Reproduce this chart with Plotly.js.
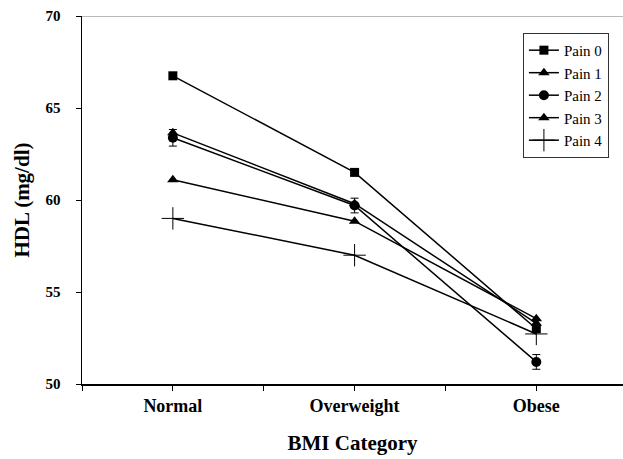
<!DOCTYPE html>
<html>
<head>
<meta charset="utf-8">
<script src="https://cdn.plot.ly/plotly-3.0.1.min.js"></script>
<style>html,body{margin:0;padding:0;background:#fff;}#chart{width:623px;height:459px;}</style>
</head>
<body>
<div id="chart"></div>
<script>
const categories = ["Normal", "Overweight", "Obese"];
const seriesNames = ["Pain 0", "Pain 1", "Pain 2", "Pain 3", "Pain 4"];
const pain0 = [66.75, 61.5, 53.0];
const pain1 = [63.65, 59.8, 53.3];
const pain2 = [63.38, 59.7, 51.2];
const pain3 = [61.1, 58.85, 53.55];
const pain4 = [59.0, 57.0, 52.72];
const pain2Err = [0.45, 0.4, 0.4];
const yTicks = [50, 55, 60, 65, 70];

const xIdx = categories.map((c, i) => i);
const symbols = ["square", "triangle-up", "circle", "triangle-up", "cross-thin"];
const sizes = [9, 10, 10, 10, 16];
const allSeries = [pain0, pain1, pain2, pain3, pain4];

const traces = allSeries.map((vals, k) => {
  const t = {
    type: "scatter",
    mode: "lines+markers",
    name: seriesNames[k],
    x: xIdx,
    y: vals,
    line: {color: "#000", width: 1.5},
    marker: {symbol: symbols[k], size: sizes[k], color: "#000",
             line: {color: "#000", width: k === 4 ? 1 : 0}}
  };
  if (k === 2) {
    t.error_y = {type: "data", array: pain2Err, visible: true, color: "#000", thickness: 1, width: 4};
  }
  return t;
});

const tickVals = [-0.5, 0, 0.5, 1, 1.5, 2];
const tickText = ["", categories[0], "", categories[1], "", categories[2]];

const layout = {
  width: 623, height: 459,
  margin: {l: 82, r: 0, t: 16, b: 75},
  paper_bgcolor: "#fff", plot_bgcolor: "#fff",
  font: {family: "Liberation Serif, Times New Roman, serif", color: "#000"},
  showlegend: true,
  legend: {
    x: 0.815, y: 0.954, xanchor: "left", yanchor: "top",
    bordercolor: "#333", borderwidth: 1, bgcolor: "#fff",
    font: {family: "Liberation Serif, serif", size: 15, color: "#000"},
    itemwidth: 30, tracegroupgap: 0
  },
  xaxis: {
    range: [-0.5, 2.477],
    tickmode: "array", tickvals: tickVals, ticktext: tickText,
    showgrid: false, zeroline: false,
    showline: true, linecolor: "#000", linewidth: 1.5,
    ticks: "outside", ticklen: 5, tickwidth: 1, tickcolor: "#000",
    tickfont: {family: "Liberation Serif, serif", size: 18, color: "#000", weight: "bold"},
    title: {text: "BMI Category", font: {family: "Liberation Serif, serif", size: 21, color: "#000", weight: "bold"}, standoff: 20}
  },
  yaxis: {
    range: [50, 70],
    tickmode: "array", tickvals: yTicks,
    showgrid: false, zeroline: false,
    showline: true, linecolor: "#000", linewidth: 1.5,
    ticks: "outside", ticklen: 5, tickwidth: 1, tickcolor: "#000",
    ticklabelstandoff: 12,
    tickfont: {family: "Liberation Serif, serif", size: 15, color: "#000", weight: "bold"},
    title: {text: "HDL (mg/dl)", font: {family: "Liberation Serif, serif", size: 21, color: "#000", weight: "bold"}, standoff: 10}
  },
  shapes: [{type: "line", xref: "paper", yref: "y", x0: 0, x1: 1, y0: 70, y1: 70,
            line: {color: "#777", width: 1}}]
};

Plotly.newPlot("chart", traces, layout, {displayModeBar: false, staticPlot: true});
</script>
</body>
</html>
